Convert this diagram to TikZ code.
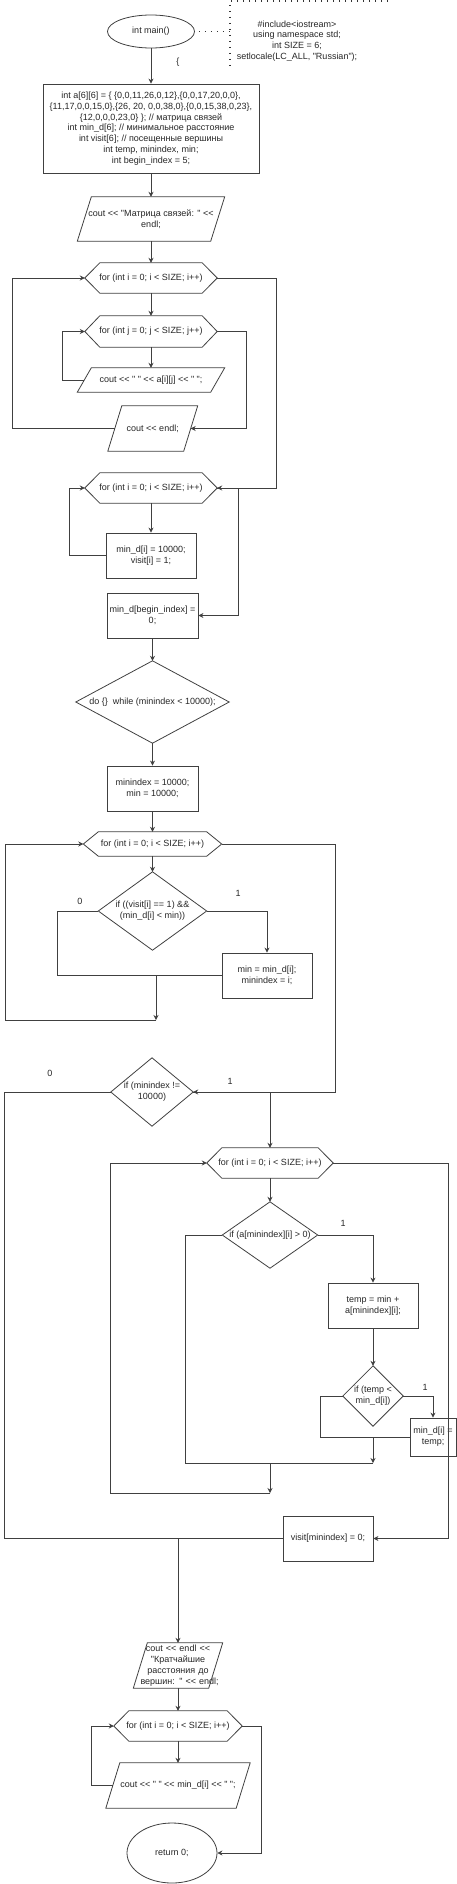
\documentclass[tikz,border=0pt]{standalone}
\usepackage{fontspec}
\newfontfamily\flowfont{Liberation Sans}
\usetikzlibrary{arrows.meta,shapes.geometric}

\tikzset{
  line/.style={draw=black!75, line width=0.8pt},
  arr/.style={line, -{Stealth[length=5pt,width=5pt]}},
  txt/.style={font=\flowfont\fontsize{9pt}{10.8pt}\selectfont, text=black!85, align=center, inner sep=0pt},
  block/.style={txt, line, rectangle},
  term/.style={txt, line, ellipse},
  forbox/.style={txt, rectangle},
  iobox/.style={txt, rectangle},
  ifbox/.style={txt, rectangle},
  dots/.style={draw=black!80, line width=1.5pt, dash pattern=on 1.2pt off 4.8pt},
}

\begin{document}
\begin{tikzpicture}[x=1pt,y=-1pt]
 \useasboundingbox (0,0) rectangle (456,1884);

 %start and header note
 \node[term, minimum width=87pt, minimum height=33pt] (main) at (151,31.5) {int main()};
 \node[txt] (note) at (297,41) {\#include<iostream>\\using namespace std;\\int SIZE = 6;\\setlocale(LC\_ALL, "Russian");};
 \node[txt] (brace) at (178,62) {\{};
 \coordinate (noteT) at (230,1);
 \coordinate (noteB) at (230,69);
 \coordinate (noteR) at (388,1);
 \coordinate (noteM) at (230,31.5);
 \draw[dots] ([xshift=4pt]main.east) -- (noteM);
 \draw[dots] (noteR) -- (noteT) -- (noteB);

 %declarations, matrix output
 \node[block, minimum width=216pt, minimum height=89pt] (init) at (151,128.5) {int a[6][6] = \{ \{0,0,11,26,0,12\},\{0,0,17,20,0,0\},\\\{11,17,0,0,15,0\},\{26, 20, 0,0,38,0\},\{0,0,15,38,0,23\},\\\{12,0,0,0,23,0\} \}; // матрица связей\\int min\_d[6]; // минимальное расстояние\\int visit[6]; // посещенные вершины\\int temp, minindex, min;\\int begin\_index = 5;};
 \node[iobox, minimum width=133pt, minimum height=44pt] (out1) at (151,219) {cout << "Матрица связей: " <<\\endl;};
 \node[forbox, minimum width=132pt, minimum height=30pt] (fi1) at (151,278) {for (int i = 0; i < SIZE; i++)};
 \node[forbox, minimum width=132pt, minimum height=31pt] (fj) at (151,331.5) {for (int j = 0; j < SIZE; j++)};
 \node[iobox, minimum width=133pt, minimum height=24pt] (out2) at (151,380) {cout << " " << a[i][j] << " ";};
 \node[iobox, minimum width=75.5pt, minimum height=45pt] (outn) at (152.75,428.5) {cout << endl;};

 %min_d and visit
 \node[forbox, minimum width=132pt, minimum height=30pt] (fi2) at (151,488) {for (int i = 0; i < SIZE; i++)};
 \node[block, minimum width=90pt, minimum height=45pt] (set1) at (151,555.5) {min\_d[i] = 10000;\\visit[i] = 1;};
 \node[block, minimum width=91pt, minimum height=45pt] (setb) at (152.5,615.5) {min\_d[begin\_index] =\\0;};

 %do while
 \node[ifbox, minimum width=153pt, minimum height=82pt] (dowhile) at (152.5,702) {do \{\}\ \ while (minindex < 10000);};
 \node[block, minimum width=91pt, minimum height=45pt] (reset) at (152.5,788.5) {minindex = 10000;\\min = 10000;};
 \node[forbox, minimum width=138pt, minimum height=24pt] (fi3) at (152.5,844) {for (int i = 0; i < SIZE; i++)};
 \node[ifbox, minimum width=108pt, minimum height=78pt] (ifmin) at (152.5,911) {if ((visit[i] == 1) \&\&\\(min\_d[i] < min))};
 \node[block, minimum width=90pt, minimum height=45pt] (upd) at (267,975.5) {min = min\_d[i];\\minindex = i;};
 \node[ifbox, minimum width=82pt, minimum height=68pt] (ifne) at (152,1092) {if (minindex !=\\10000)};
 \node[forbox, minimum width=126pt, minimum height=30pt] (fi4) at (270,1163) {for (int i = 0; i < SIZE; i++)};
 \node[ifbox, minimum width=95pt, minimum height=66pt] (ifa) at (270,1235) {if (a[minindex][i] > 0)};
 \node[block, minimum width=90pt, minimum height=45pt] (tmp) at (373,1305.5) {temp = min +\\a[minindex][i];};
 \node[ifbox, minimum width=60pt, minimum height=60pt] (iftmp) at (373,1396) {if (temp <\\min\_d[i])};
 \node[block, minimum width=46pt, minimum height=38pt] (setd) at (433,1437) {min\_d[i] =\\temp;};
 \node[block, minimum width=90pt, minimum height=45pt] (vis) at (328,1538.5) {visit[minindex] = 0;};

 %result output
 \node[iobox, text width=75pt, minimum height=45pt] (out3) at (178,1665.5) {cout << endl <<\\"Кратчайшие\\расстояния до\\\mbox{вершин: " << endl;}};
 \node[forbox, minimum width=128pt, minimum height=30pt] (fi5) at (178,1726) {for (int i = 0; i < SIZE; i++)};
 \node[iobox, minimum width=130pt, minimum height=45pt] (out4) at (178,1785.5) {cout << " " << min\_d[i] << " ";};
 \node[term, minimum width=90pt, minimum height=60pt] (ret) at (172,1853) {return 0;};

 %branch labels
 \node[txt] (lbl0a) at (80,901) {0};
 \node[txt] (lbl1a) at (238,893) {1};
 \node[txt] (lbl0b) at (50,1073) {0};
 \node[txt] (lbl1b) at (230,1081) {1};
 \node[txt] (lbl1c) at (343,1223) {1};
 \node[txt] (lbl1d) at (425,1387) {1};

 %outlines
 \foreach \n in {fi1,fj,fi2,fi3,fi4,fi5}
   \draw[line] (\n.west) -- ([xshift=15pt]\n.north west) -- ([xshift=-15pt]\n.north east)
     -- (\n.east) -- ([xshift=-15pt]\n.south east) -- ([xshift=15pt]\n.south west) -- cycle;
 \foreach \n in {out1,out2,outn,out3,out4}
   \draw[line] ([xshift=7pt]\n.north west) -- ([xshift=7pt]\n.north east)
     -- ([xshift=-7pt]\n.south east) -- ([xshift=-7pt]\n.south west) -- cycle;
 \foreach \n in {dowhile,ifmin,ifne,ifa,iftmp}
   \draw[line] (\n.north) -- (\n.east) -- (\n.south) -- (\n.west) -- cycle;

 %top part
 \draw[arr] (main.south) -- (init.north);
 \draw[arr] (init.south) -- (out1.north);
 \draw[arr] (out1.south) -- (fi1.north);
 \draw[arr] (fi1.south) -- (fj.north);
 \draw[arr] (fj.south) -- (out2.north);
 \draw[arr] (out2.west) -- ++(-22,0) |- (fj.west);
 \draw[arr] (fj.east) -- ++(29,0) |- (outn.east);
 \draw[arr] (outn.west) -- ++(-102,0) |- (fi1.west);
 \draw[arr] (fi1.east) -- ++(59,0) |- (fi2.east);
 \draw[arr] (fi2.south) -- (set1.north);
 \draw[arr] (set1.west) -- ++(-36,0) |- (fi2.west);
 \draw[arr] (fi2.east) -- ++(21,0) |- (setb.east);
 \draw[arr] (setb.south) -- (dowhile.north);

 %search for min
 \draw[arr] (dowhile.south) -- (reset.north);
 \draw[arr] (reset.south) -- (fi3.north);
 \draw[arr] (fi3.south) -- (ifmin.north);
 \draw[arr] (ifmin.east) -| (upd.north);
 \draw[line] (ifmin.west) -- ++(-41,0) |- (upd.west);
 \coordinate (m1) at (156,975.5);
 \coordinate (m1b) at (156,1020);
 \draw[arr] (m1) -- (m1b);
 \draw[arr] (m1b) -- ++(-151,0) |- (fi3.west);
 \draw[arr] (fi3.east) -- ++(114,0) |- (ifne.east);

 %update of distances
 \draw[arr] (ifne.east) -| (fi4.north);
 \draw[arr] (fi4.south) -- (ifa.north);
 \draw[arr] (ifa.east) -| (tmp.north);
 \draw[arr] (tmp.south) -- (iftmp.north);
 \draw[arr] (iftmp.east) -| (setd.north);
 \draw[line] (iftmp.west) -- ++(-22,0) |- (setd.west);
 \coordinate (m2) at (373,1437);
 \coordinate (m3) at (373,1463);
 \draw[arr] (m2) -- (m3);
 \draw[line] (ifa.west) -- ++(-37,0) |- (m3);
 \coordinate (m4) at (270,1463);
 \coordinate (m5) at (270,1493);
 \draw[arr] (m4) -- (m5);
 \draw[arr] (m5) -- ++(-160,0) |- (fi4.west);
 \draw[arr] (fi4.east) -- ++(115,0) |- (vis.east);

 %exit and output
 \coordinate (m6) at (178,1538.5);
 \draw[line] (ifne.west) -- ++(-106,0) |- (m6);
 \draw[line] (vis.west) -- (m6);
 \draw[arr] (m6) -- (out3.north);
 \draw[arr] (out3.south) -- (fi5.north);
 \draw[arr] (fi5.south) -- (out4.north);
 \draw[arr] (out4.west) -- ++(-21,0) |- (fi5.west);
 \draw[arr] (fi5.east) -- ++(19,0) |- (ret.east);
\end{tikzpicture}
\end{document}
